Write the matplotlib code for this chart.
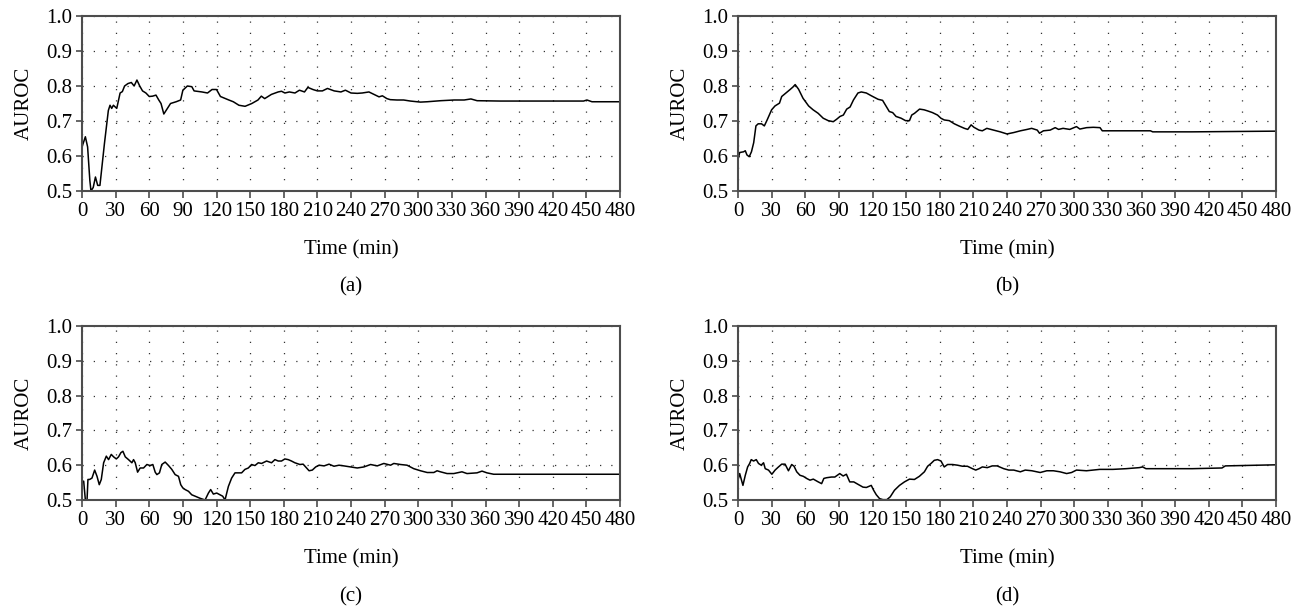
import matplotlib
matplotlib.use('Agg')
import matplotlib.pyplot as plt

# (time in min, AUROC)
PANEL_A = [
    (0, 0.626), (3, 0.655), (5, 0.626), (7, 0.53), (8, 0.50), (10, 0.51), (12, 0.54),
    (14, 0.516), (16, 0.516), (20, 0.635), (23.5, 0.73), (25, 0.745), (26.5, 0.736),
    (28, 0.745), (31, 0.736), (34, 0.78), (36, 0.784), (38, 0.80), (41, 0.807),
    (44, 0.81), (46.5, 0.80), (49, 0.817), (51.5, 0.80), (54, 0.786), (57, 0.78),
    (60, 0.77), (63, 0.771), (66, 0.774), (68.5, 0.76), (70.5, 0.75), (73, 0.72),
    (75, 0.73), (79, 0.75), (84, 0.755), (88, 0.76), (90, 0.788), (94, 0.80),
    (98, 0.798), (100, 0.786), (107, 0.783), (112, 0.78), (116, 0.79), (120, 0.79),
    (123.5, 0.77), (126.5, 0.766), (131, 0.76), (135, 0.755), (140, 0.745),
    (145.5, 0.742), (151.5, 0.75), (157, 0.76), (160, 0.771), (163, 0.764),
    (169, 0.776), (175, 0.783), (178, 0.785), (181, 0.78), (185, 0.783), (190, 0.78),
    (194, 0.788), (198.5, 0.783), (201.5, 0.796), (206, 0.79), (210, 0.786),
    (214.5, 0.786), (219, 0.793), (225, 0.786), (231, 0.783), (235, 0.788),
    (240, 0.78), (245.6, 0.779), (250, 0.78), (256, 0.783), (260.5, 0.776),
    (265, 0.769), (268, 0.772), (272, 0.764), (275, 0.761), (281, 0.76), (287, 0.76),
    (293, 0.757), (302, 0.754), (308, 0.755), (320, 0.758), (332, 0.76), (341, 0.76),
    (347, 0.763), (352.5, 0.758), (373, 0.757), (403, 0.757), (447.5, 0.757),
    (450.5, 0.76), (455, 0.755), (480, 0.755),
]

PANEL_B = [
    (0, 0.59), (1.5, 0.61), (5, 0.612), (6.5, 0.615), (8, 0.603), (10, 0.598),
    (12, 0.612), (14, 0.638), (16, 0.686), (18, 0.692), (21, 0.692), (23.5, 0.686),
    (26, 0.703), (30, 0.732), (33, 0.743), (37, 0.751), (39, 0.77), (43.5, 0.782),
    (46.5, 0.79), (49, 0.797), (51, 0.804), (54, 0.791), (58, 0.765), (63, 0.743),
    (67, 0.732), (71.5, 0.722), (76, 0.708), (80.5, 0.701), (85, 0.698), (88, 0.705),
    (91, 0.713), (94, 0.717), (97, 0.734), (100, 0.74), (103, 0.76), (107, 0.78),
    (110, 0.783), (114.5, 0.78), (119, 0.772), (125, 0.762), (129, 0.759),
    (132, 0.743), (135, 0.727), (138, 0.724), (141, 0.713), (145.5, 0.708),
    (149.5, 0.701), (153, 0.701), (155, 0.717), (157.5, 0.722), (162, 0.734),
    (166, 0.732), (169, 0.729), (173.5, 0.724), (178, 0.717), (181, 0.708),
    (184, 0.703), (188.5, 0.701), (193, 0.692), (197, 0.686), (202, 0.679),
    (205, 0.676), (208, 0.689), (210.5, 0.682), (215, 0.674), (218, 0.672),
    (222, 0.679), (228, 0.674), (234, 0.669), (240, 0.663), (246, 0.667),
    (252, 0.672), (258, 0.676), (262, 0.679), (267, 0.674), (269, 0.665),
    (272.5, 0.672), (278.5, 0.674), (283, 0.681), (286, 0.676), (290, 0.679),
    (296, 0.676), (302, 0.684), (305, 0.677), (311, 0.681), (317, 0.682),
    (323, 0.681), (325, 0.672), (346, 0.672), (368, 0.672), (370, 0.669),
    (405, 0.669), (480, 0.671),
]

PANEL_C = [
    (0, 0.554), (1.5, 0.554), (3, 0.5), (4.5, 0.5), (5.3, 0.559), (6.8, 0.559),
    (8.9, 0.563), (11.3, 0.586), (13.4, 0.568), (15.4, 0.544), (17.2, 0.559),
    (19.3, 0.607), (21.7, 0.626), (23.7, 0.616), (26.1, 0.631), (28.2, 0.624),
    (30.6, 0.618), (32.6, 0.624), (34.7, 0.636), (36.5, 0.640), (38.6, 0.624),
    (41.5, 0.616), (44.5, 0.607), (46, 0.616), (47.5, 0.607), (49.6, 0.58),
    (51.9, 0.592), (54.9, 0.592), (57.9, 0.602), (60.8, 0.599), (63.2, 0.602),
    (65.3, 0.58), (66.8, 0.573), (69.1, 0.578), (71.2, 0.602), (74.2, 0.609),
    (77.2, 0.599), (80.1, 0.588), (83.1, 0.573), (86.1, 0.568), (88.1, 0.544),
    (89.9, 0.535), (92, 0.53), (95, 0.525), (97.9, 0.515), (100.9, 0.511),
    (105.3, 0.505), (109.8, 0.5), (112.8, 0.52), (114.8, 0.53), (117.2, 0.517),
    (120.2, 0.52), (123.1, 0.515), (125.5, 0.511), (127.6, 0.5), (130.6, 0.539),
    (133.5, 0.563), (136.5, 0.578), (139.5, 0.578), (142.4, 0.578), (145.4, 0.588),
    (148.4, 0.592), (151.3, 0.602), (154.3, 0.599), (157.3, 0.607), (160.2, 0.605),
    (164.7, 0.612), (169.1, 0.607), (172.1, 0.616), (175.1, 0.612), (178, 0.612),
    (181, 0.618), (184, 0.616), (186.9, 0.612), (189.9, 0.607), (194.4, 0.602),
    (197.3, 0.603), (202.6, 0.584), (205.5, 0.586), (208.5, 0.595), (211.5, 0.6),
    (216, 0.598), (220.4, 0.603), (224.8, 0.597), (229.3, 0.6), (233.7, 0.598),
    (239.7, 0.595), (245.6, 0.592), (251.5, 0.595), (257.5, 0.602), (263.4, 0.598),
    (269.3, 0.605), (275.3, 0.6), (278.2, 0.605), (284.2, 0.602), (290, 0.6),
    (296, 0.59), (302, 0.584), (308, 0.579), (313.9, 0.579), (316.8, 0.584),
    (319.8, 0.581), (325.7, 0.576), (331.7, 0.576), (339, 0.581), (343.5, 0.576),
    (352.4, 0.578), (356.9, 0.583), (361.3, 0.578), (367.3, 0.574), (480, 0.574),
]

PANEL_D = [
    (0, 0.557), (1.5, 0.576), (2.7, 0.562), (4.4, 0.542), (6.5, 0.571), (8.6, 0.595),
    (10.4, 0.605), (11.8, 0.616), (13.9, 0.612), (16.3, 0.616), (18.3, 0.605),
    (20.7, 0.6), (22.8, 0.607), (24.3, 0.59), (27.2, 0.586), (30.2, 0.574),
    (33.1, 0.586), (36.1, 0.595), (39, 0.603), (42, 0.603), (45, 0.584), (47.9, 0.602),
    (50, 0.597), (52.4, 0.581), (55.3, 0.571), (58.3, 0.568), (61.2, 0.562),
    (64.2, 0.557), (67.2, 0.56), (71.6, 0.552), (74.6, 0.547), (76.6, 0.562),
    (79, 0.564), (83.4, 0.566), (86.4, 0.566), (90.8, 0.576), (93.8, 0.569),
    (96.7, 0.574), (99.7, 0.552), (103.3, 0.552), (107.1, 0.545), (111.5, 0.537),
    (114.5, 0.536), (118.9, 0.542), (121, 0.528), (123.4, 0.515), (126.3, 0.504),
    (129.3, 0.501), (132.8, 0.501), (135.8, 0.509), (139.6, 0.528), (144.1, 0.542),
    (148.5, 0.552), (153, 0.56), (157.4, 0.559), (161.8, 0.568), (166.3, 0.581),
    (169.2, 0.597), (172.2, 0.605), (175.1, 0.614), (178.1, 0.616), (181.1, 0.612),
    (184, 0.595), (187, 0.602), (191.4, 0.602), (195.9, 0.6), (200.3, 0.597),
    (204.7, 0.597), (209.2, 0.59), (212.1, 0.586), (215.1, 0.59), (218, 0.595),
    (222.4, 0.593), (226.8, 0.598), (231.2, 0.598), (237.1, 0.59), (241.6, 0.586),
    (246, 0.586), (251.9, 0.581), (256.3, 0.586), (262.2, 0.584), (269.6, 0.579),
    (275.5, 0.584), (281.4, 0.584), (287.3, 0.581), (293.2, 0.576), (297.6, 0.579),
    (302, 0.586), (310.9, 0.584), (322.7, 0.588), (334.5, 0.588), (346.3, 0.59),
    (358, 0.593), (361, 0.595), (364, 0.59), (405.3, 0.59), (431.8, 0.592),
    (434.8, 0.598), (478.4, 0.601), (480, 0.601),
]

PANEL_LABELS = ['(a)', '(b)', '(c)', '(d)']
X_TICKS = list(range(0, 481, 30))
Y_TICKS = [0.5, 0.6, 0.7, 0.8, 0.9, 1.0]

plt.rcParams['font.family'] = ['Liberation Serif', 'DejaVu Serif']
plt.rcParams['font.size'] = 15


def draw_panel(ax, data):
    xs = [p[0] for p in data]
    ys = [p[1] for p in data]
    ax.plot(xs, ys, color='black', linewidth=1.1)
    ax.set_xlim(0, 480)
    ax.set_ylim(0.5, 1.0)
    ax.set_xticks(X_TICKS)
    ax.set_yticks(Y_TICKS)
    ax.set_yticklabels([f'{v:.1f}' for v in Y_TICKS])
    ax.grid(True, color='0.2', linestyle=(0, (1, 8)), linewidth=0.9)
    for s in ax.spines.values():
        s.set_color('0.3')
        s.set_linewidth(1.5)
    ax.tick_params(axis='x', direction='out', length=5, width=1.2, pad=3, colors='0.3',
                   labelcolor='black')
    ax.tick_params(axis='y', direction='out', length=4, width=1.2, pad=3, colors='0.3',
                   labelcolor='black')
    ax.set_xlabel('Time (min)', labelpad=14)
    ax.set_ylabel('AUROC', labelpad=9)


fig = plt.figure(figsize=(13.03, 6.09), dpi=100)
W = 1303.0
H = 609.0
positions = [
    (82, 16, 620, 191),
    (738, 16, 1276, 191),
    (82, 326, 620, 500),
    (738, 326, 1276, 500),
]
label_y = [287, 287, 597, 597]
for data, (x0, y0, x1, y1), lab, ly in zip([PANEL_A, PANEL_B, PANEL_C, PANEL_D],
                                            positions, PANEL_LABELS, label_y):
    ax = fig.add_axes([x0 / W, 1 - y1 / H, (x1 - x0) / W, (y1 - y0) / H])
    draw_panel(ax, data)
    fig.text((x0 + x1) / 2 / W, 1 - ly / H, lab, ha='center', va='center')

fig.savefig('out.png', dpi=100)
